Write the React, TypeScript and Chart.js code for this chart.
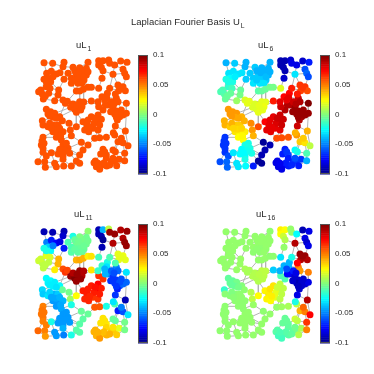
import React, { useEffect, useRef } from "react";
import { Chart, registerables } from "chart.js";
Chart.register(...registerables);

const nodeX = [108,134,168,165,116,130,145,156,120,108,128,168,195,215,240,235,222,205,190,215,235,228,190,210,222,180,92,103,106,115,126,122,152,150,140,165,172,178,205,215,226,240,250,272,188,200,215,227,212,205,222,250,115,128,120,140,155,135,103,105,120,137,150,163,183,135,150,165,145,160,187,190,205,225,237,250,270,265,280,230,255,270,242,285,272,270,282,298,296,305,330,345,352,332,325,330,300,315,325,320,335,345,355,355,328,322,340,260,275,295,320,316,330,345,352,360,340,272,272,285,302,280,285,305,320,338,357,345,350,355,315,282,285,278,295,315,322,350,258,265,282,296,310,320,326,333,350,262,275,295,220,240,225,215,205,215,190,105,100,105,105,115,90,110,112,145,167,140,165,155,180,130,150,165,185,165,200,212,228,200,240,125,145,125,143,155,158,130,240,258,245,262,275,292,310,318,335,325,308,290,322,338,195,207,218,172,160,175,288,270,305,315,290,108,102,135,115,98,112];
const nodeY = [98,100,97,110,130,124,132,128,145,148,155,148,112,113,97,115,125,133,145,145,135,150,160,160,160,130,185,192,207,170,175,190,180,195,212,210,220,214,183,183,178,172,172,175,232,238,215,216,232,247,230,213,238,245,252,250,260,262,272,285,290,285,285,272,280,305,310,305,322,330,300,317,290,275,285,260,255,275,268,300,295,300,305,240,230,215,200,190,203,175,165,170,182,182,205,215,225,235,243,252,260,255,220,250,270,288,240,325,323,322,315,308,335,338,303,347,325,92,105,92,90,112,122,100,105,93,97,118,130,140,133,145,358,372,375,360,365,370,398,410,405,408,395,393,407,388,392,393,418,385,337,345,360,375,393,400,408,322,345,355,367,378,395,395,412,410,408,400,345,358,355,368,372,378,370,388,122,128,140,150,125,258,265,280,298,295,318,295,270,280,292,265,285,225,215,222,250,262,245,210,192,172,222,226,240,362,368,340,398,400,405,385,365,340,333,140,155,180,198];
const uL1 = [.059,.059,.059,.059,.059,.059,.059,.059,.059,.059,.059,.059,.059,.059,.059,.059,.059,.059,.059,.059,.059,.059,.059,.059,.059,.059,.059,.059,.059,.059,.059,.059,.059,.059,.059,.059,.059,.059,.059,.059,.059,.059,.059,.059,.059,.059,.059,.059,.059,.059,.059,.059,.059,.059,.059,.059,.059,.059,.059,.059,.059,.059,.059,.059,.059,.059,.059,.059,.059,.059,.059,.059,.059,.059,.059,.059,.059,.059,.059,.059,.059,.059,.059,.059,.059,.059,.059,.059,.059,.059,.059,.059,.059,.059,.059,.059,.059,.059,.059,.059,.059,.059,.059,.059,.059,.059,.059,.059,.059,.059,.059,.059,.059,.059,.059,.059,.059,.059,.059,.059,.059,.059,.059,.059,.059,.059,.059,.059,.059,.059,.059,.059,.059,.059,.059,.059,.059,.059,.059,.059,.059,.059,.059,.059,.059,.059,.059,.059,.059,.059,.059,.059,.059,.059,.059,.059,.059,.059,.059,.059,.059,.059,.059,.059,.059,.059,.059,.059,.059,.059,.059,.059,.059,.059,.059,.059,.059,.059,.059,.059,.059,.059,.059,.059,.059,.059,.059,.059,.059,.059,.059,.059,.059,.059,.059,.059,.059,.059,.059,.059,.059,.059,.059,.059,.059,.059,.059,.059,.059,.059,.059,.059,.059,.059,.059,.059,.059,.059,.059];
const uL6 = [-.04,-.035,-.04,-.04,-.03,-.03,-.03,-.03,-.025,-.02,-.02,-.035,-.035,-.04,-.04,-.04,-.04,-.035,-.035,-.035,-.04,-.035,-.03,-.03,-.03,-.035,-.01,-.008,-.005,-.015,-.012,-.005,-.005,-.002,.005,.018,.02,.02,-.008,-.006,-.005,-.003,-.002,.018,.018,.018,.02,.02,.02,.02,.022,.07,.045,.045,.045,.045,.04,.042,.04,.04,.035,.035,.035,.04,.048,.03,.027,.028,.025,.025,.045,.04,.06,.075,.08,.08,.085,.085,.085,.08,.08,.08,.08,.09,.085,.08,.075,.075,.08,.07,.065,.065,.06,.062,.085,.09,.09,.095,.095,.095,.095,.095,.1,.095,.09,.085,.095,.06,.06,.058,.045,.04,.035,.03,.04,.012,.035,-.09,-.09,-.09,-.085,-.09,-.09,-.08,-.08,-.085,-.07,-.06,-.055,-.06,-.03,-.085,-.07,-.07,-.06,-.025,-.02,-.01,-.08,-.08,-.075,-.07,-.065,-.065,-.07,-.065,-.04,-.08,-.08,-.07,-.095,-.09,-.09,-.09,-.095,-.095,-.07,-.065,-.065,-.065,-.065,-.06,-.06,-.055,-.055,-.03,-.025,-.03,-.02,-.025,-.02,-.03,-.025,-.025,-.02,-.02,-.04,-.04,-.038,-.035,-.04,.045,.042,.04,.032,.033,.026,.033,.08,.082,.08,.085,.085,.09,.085,.09,.095,.095,.095,.08,.07,.065,.018,.02,.02,-.022,-.025,-.02,-.07,-.078,-.068,-.06,-.065,-.065,-.065,-.028,-.02,-.01,-.005];
const uL11 = [-.09,-.09,-.09,-.085,-.05,-.07,-.075,-.08,-.035,-.02,-.025,-.07,-.02,0,.003,-.003,-.002,-.003,-.01,-.005,-.003,-.005,-.008,-.006,-.005,-.01,.015,.012,.012,.02,.018,.012,.04,.04,.028,.06,.065,.062,.04,.042,.04,.028,.03,-.012,.095,.1,.095,.09,.1,.095,.09,.03,-.025,-.025,-.027,-.028,-.025,-.028,-.032,-.035,-.03,-.04,-.035,-.005,-.002,-.045,-.045,-.04,-.045,-.042,.005,-.02,.025,.07,.07,.07,.075,.075,.07,.068,.065,.065,.068,.065,.065,-.015,-.015,-.02,-.03,-.01,.02,.022,.02,.02,-.05,-.055,-.05,-.065,-.065,-.065,-.06,-.055,-.03,-.055,-.07,-.065,-.06,.058,.058,-.02,-.01,-.03,-.07,-.06,-.09,-.03,-.05,-.09,-.09,-.04,.012,-.09,-.095,.095,.095,.09,.095,.09,.095,.095,.09,-.09,.03,.03,.028,-.005,-.005,-.002,.04,.04,.035,.04,.035,.035,.035,.02,-.002,.04,.045,.033,-.005,-.005,-.007,-.008,-.008,-.008,-.02,.05,.052,.052,.05,.05,.055,.05,.045,-.045,-.05,-.045,-.045,-.045,-.045,-.02,-.045,-.045,-.045,-.04,-.005,-.003,-.004,-.006,-.003,-.028,-.03,-.033,-.042,-.04,-.042,-.042,.07,.07,.068,.072,.07,-.04,-.055,-.06,-.06,-.065,-.065,-.04,-.01,.02,.09,.095,.095,-.045,-.045,-.045,.038,.04,.04,.03,.03,.052,.052,-.05,-.02,.015,.012];
const uL16 = [.004,.004,.004,.004,.004,.004,.004,.004,.004,.004,.004,.004,.004,.004,.003,.004,.004,.004,.004,.003,.004,.003,.003,.003,.004,.004,.004,.004,.004,.004,.004,.004,.005,.005,.005,.008,.008,.008,.004,.004,.004,.003,.003,-.03,.01,.01,.012,.012,.011,.01,.012,-.035,-.006,-.005,-.005,-.002,.001,-.004,-.015,.002,.002,.002,.003,.003,.01,.003,.003,.003,.003,.003,.012,.005,.025,.027,.028,.03,.012,.012,.012,.027,.02,.012,.026,-.01,-.01,-.04,-.04,-.04,-.04,-.02,.095,.095,.09,.09,.05,.045,-.08,-.085,-.085,-.09,-.085,-.085,.05,-.08,-.085,-.08,-.085,.004,.006,.008,.012,-.02,.04,.05,.09,.075,.055,.028,.025,.025,.004,.015,.01,.004,-.025,-.09,-.08,-.08,-.085,-.08,.09,.004,-.005,-.005,-.005,.015,.012,.065,-.008,-.012,-.01,-.008,-.005,-.002,.01,.008,.05,-.008,-.012,-.006,.003,.004,.004,.004,.004,.004,.004,.003,.003,.003,.003,.003,.003,.003,.003,.004,.004,.004,.004,.004,.004,.004,.004,.004,.004,.004,.004,.004,.004,.003,.004,-.005,-.002,0,.003,.003,.003,.002,.03,.02,.028,.014,.012,-.075,-.07,-.08,-.085,-.088,-.085,-.06,.075,.095,.01,.011,.011,.004,.004,.004,-.008,-.01,-.006,-.003,-.005,.003,.003,.004,.004,.004,.004];
const edgePairs = [[0,1],[0,4],[1,5],[1,3],[2,3],[3,7],[3,12],[4,5],[4,8],[5,6],[6,7],[6,8],[7,11],[8,9],[8,10],[9,10],[9,27],[10,29],[10,30],[6,10],[11,25],[11,18],[12,13],[12,25],[13,14],[13,15],[13,16],[14,15],[15,16],[15,20],[16,17],[16,20],[17,25],[17,18],[17,19],[18,22],[18,19],[19,21],[19,23],[20,21],[21,24],[22,23],[23,24],[24,40],[22,38],[23,38],[21,41],[24,42],[11,32],[10,32],[26,27],[27,28],[26,29],[27,31],[28,31],[29,30],[30,31],[29,27],[31,33],[32,33],[33,34],[34,35],[33,35],[35,36],[35,37],[36,37],[28,34],[32,30],[38,39],[39,40],[40,41],[41,42],[42,43],[43,131],[37,46],[36,44],[44,45],[45,48],[46,47],[46,48],[47,50],[48,50],[48,49],[45,49],[50,51],[47,51],[39,46],[40,47],[38,37],[51,85],[51,84],[44,55],[49,73],[49,72],[45,56],[36,56],[52,53],[52,54],[53,54],[53,55],[54,57],[55,56],[55,57],[56,63],[57,58],[57,60],[58,59],[59,60],[60,61],[61,62],[62,63],[61,65],[62,67],[65,66],[66,67],[65,68],[66,68],[68,69],[67,69],[63,64],[64,70],[64,72],[70,71],[70,67],[71,69],[72,73],[73,74],[73,79],[74,75],[75,76],[75,77],[76,77],[76,78],[77,78],[74,77],[79,82],[74,82],[82,80],[80,81],[80,77],[81,78],[76,83],[83,84],[84,85],[85,86],[86,87],[86,88],[87,88],[87,89],[88,96],[83,96],[96,97],[97,98],[98,99],[98,106],[99,100],[100,101],[101,106],[101,103],[100,104],[104,105],[99,104],[94,95],[94,93],[95,106],[95,102],[102,103],[90,91],[91,92],[92,93],[90,93],[89,90],[93,89],[88,94],[105,111],[105,114],[110,111],[111,109],[109,108],[108,107],[107,81],[108,81],[107,82],[110,116],[116,112],[116,113],[112,113],[113,115],[114,116],[110,112],[114,115],[103,114],[117,118],[117,119],[118,121],[119,120],[119,121],[121,122],[120,123],[123,124],[124,125],[125,126],[124,127],[126,127],[127,128],[128,129],[124,130],[130,128],[122,131],[122,130],[130,89],[129,91],[130,90],[132,133],[132,134],[133,134],[134,135],[135,136],[136,137],[136,145],[137,145],[137,146],[145,143],[145,146],[133,149],[134,149],[149,140],[149,142],[142,143],[143,144],[144,145],[141,144],[140,141],[138,147],[138,139],[139,148],[140,139],[147,140],[148,140],[141,142],[147,133],[112,136],[113,137],[115,137],[146,144],[135,112],[150,151],[150,152],[151,152],[152,153],[153,154],[154,155],[155,156],[154,174],[150,71],[151,107],[153,174],[153,170],[156,175],[156,166],[150,170],[168,69],[168,169],[168,170],[169,172],[169,171],[170,174],[172,173],[173,174],[173,175],[171,172],[171,161],[175,167],[175,166],[166,165],[165,167],[167,163],[167,171],[165,164],[157,158],[158,159],[159,160],[160,161],[161,163],[162,163],[163,164],[162,160],[157,65],[157,68],[159,171],[164,162],[176,12],[177,17],[178,19],[179,18],[180,15],[181,53],[182,55],[183,60],[184,62],[185,67],[186,68],[187,65],[188,73],[189,77],[190,74],[191,76],[192,78],[193,96],[194,95],[195,97],[196,98],[197,100],[198,97],[199,88],[200,94],[201,90],[202,44],[203,45],[204,48],[205,170],[206,169],[207,168],[208,141],[209,140],[210,141],[211,142],[212,134],[213,158],[214,157],[215,6],[216,10],[217,26],[218,31]];
const tickValues = [0.1, 0.05, 0, -0.05, -0.1];
const tickLabels = ["0.1", "0.05", "0", "-0.05", "-0.1"];

const FONT = '"Liberation Sans", Arial, sans-serif';
const TEXT = "#2b2b2b";

function jet(v: number) {
  const t = (v + 0.1) / 0.2;
  const ch = (c: number) => Math.round(255 * Math.max(0, Math.min(1, 1.5 - Math.abs(4 * t - c))));
  return `rgb(${ch(3)},${ch(2)},${ch(1)})`;
}

const colorbar = {
  id: "colorbar",
  beforeDatasetsDraw(chart: any) {
    const { ctx, scales, chartArea } = chart;
    const cb = scales.cb;
    const left = chartArea.right - 10;
    ctx.save();
    for (let i = 0; i < 64; i++) {
      const a = -0.1 + (0.2 * i) / 64;
      const b = -0.1 + (0.2 * (i + 1)) / 64;
      const yA = cb.getPixelForValue(a);
      const yB = cb.getPixelForValue(b);
      ctx.fillStyle = jet((a + b) / 2);
      ctx.fillRect(left, yB, 10, yA - yB + 0.5);
    }
    ctx.strokeStyle = "#555";
    ctx.lineWidth = 1;
    ctx.strokeRect(left + 0.5, chartArea.top + 0.5, 9, chartArea.bottom - chartArea.top - 1);
    ctx.restore();
  },
};

function Panel({ values, left, top }: { values: number[]; left: number; top: number }) {
  const ref = useRef<HTMLCanvasElement>(null);
  useEffect(() => {
    const nodes = nodeX.map((x, i) => ({ x, y: nodeY[i] }));
    const links: any[] = [];
    edgePairs.forEach(([a, b]) => {
      links.push(nodes[a], nodes[b], { x: NaN, y: NaN });
    });
    const chart = new Chart(ref.current as HTMLCanvasElement, {
      type: "scatter",
      data: {
        datasets: [
          {
            data: nodes,
            pointRadius: 3.5,
            pointBorderWidth: 0,
            pointBackgroundColor: values.map(jet),
            clip: false,
          } as any,
          {
            data: links,
            showLine: true,
            spanGaps: false,
            pointRadius: 0,
            borderColor: "#b4b4b4",
            borderWidth: 1,
            clip: false,
          } as any,
        ],
      },
      options: {
        animation: false,
        responsive: false,
        layout: { padding: { left: 30, right: 4, top: 55, bottom: 13 } },
        plugins: { legend: { display: false }, tooltip: { enabled: false }, title: { display: false } },
        scales: {
          x: { type: "linear", min: 66, max: 420, display: false },
          y: { type: "linear", min: 75, max: 432, reverse: true, display: false },
          cb: {
            type: "linear",
            axis: "y",
            position: "right",
            min: -0.1,
            max: 0.1,
            afterFit: (s: any) => { s.width = 30; },
            afterBuildTicks: (s: any) => { s.ticks = tickValues.map((value) => ({ value })); },
            grid: { display: false, drawTicks: false },
            border: { display: false },
            ticks: {
              padding: 5,
              autoSkip: false,
              color: TEXT,
              font: { family: FONT, size: 8 },
              callback: (v: any) => tickLabels[tickValues.indexOf(v)] ?? "",
            },
          },
        } as any,
      },
      plugins: [colorbar],
    } as any);
    return () => chart.destroy();
  }, [values]);
  return <canvas ref={ref} width={182} height={187} style={{ position: "absolute", left, top }} />;
}

function Label({ left, top, size, base, sub }: { left: number; top: number; size: number; base: string; sub: string }) {
  return (
    <div style={{ position: "absolute", left, top, fontFamily: FONT, fontSize: size, lineHeight: "12px", color: TEXT, whiteSpace: "nowrap" }}>
      {base}
      <span style={{ fontSize: size * 0.72, position: "relative", top: 3, marginLeft: 1 }}>{sub}</span>
    </div>
  );
}

export default function App() {
  return (
    <div style={{ position: "absolute", left: 0, top: 0, width: 374, height: 374, overflow: "hidden", background: "#fff", filter: "blur(0.4px)" }}>
      <Panel values={uL1} left={0} top={0} />
      <Panel values={uL6} left={182} top={0} />
      <Panel values={uL11} left={0} top={169} />
      <Panel values={uL16} left={182} top={169} />
      <Label left={131} top={16} size={9.5} base="Laplacian Fourier Basis U" sub="L" />
      <Label left={76} top={39} size={9.5} base="uL" sub="1" />
      <Label left={258} top={39} size={9.5} base="uL" sub="6" />
      <Label left={74} top={208} size={9.5} base="uL" sub="11" />
      <Label left={256} top={208} size={9.5} base="uL" sub="16" />
    </div>
  );
}
